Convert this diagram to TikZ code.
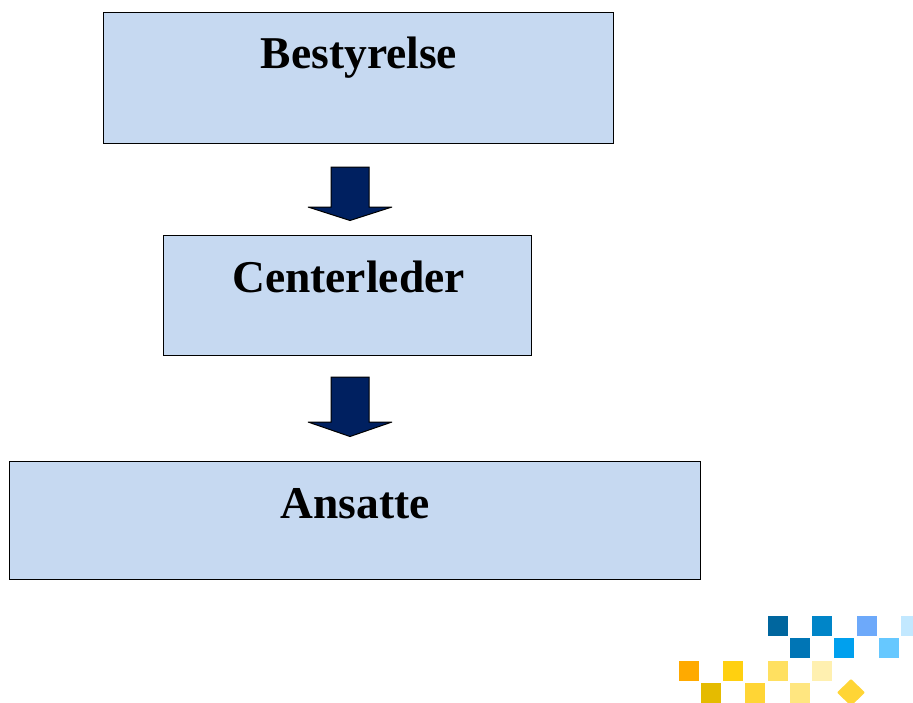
\documentclass[tikz,border=0pt]{standalone}
\usepackage{fontspec}
\setmainfont{Liberation Serif}
\definecolor{boxfill}{HTML}{C6D9F1}
\definecolor{arrowfill}{HTML}{002060}
\tikzset{
  x=1pt,y=-1pt,
  orgbox/.style={draw=black,line width=1.3pt,fill=boxfill,anchor=north west,inner sep=0pt,outer sep=0pt},
  boxtext/.style={anchor=base,inner sep=0pt,font=\fontsize{45.5}{45.5}\selectfont\bfseries},
  blockarrow/.style={draw=black,line width=1pt,fill=arrowfill,line join=miter,miter limit=2},
  tile/.style={minimum size=20pt,inner sep=0pt,outer sep=0pt,anchor=north west}
}
\begin{document}
\begin{tikzpicture}
\path[use as bounding box,fill=white] (0,0) rectangle (913,702);
\clip (0,0) rectangle (913,702);
\node[orgbox,minimum width=510pt,minimum height=131pt] (bestyrelse) at (103.3,12.2) {};
\node[orgbox,minimum width=368.5pt,minimum height=120pt] (centerleder) at (163.3,235.3) {};
\node[orgbox,minimum width=691pt,minimum height=118pt] (ansatte) at (9.3,461.3) {};
\node[boxtext] (t1) at (359,68) {Bestyrelse};
\node[boxtext] (t2) at (348.5,292) {Centerleder};
\node[boxtext] (t3) at (355,518) {Ansatte};
\draw[blockarrow] (331,167) -- (369,167) -- (369,207) -- (392,207) -- (350,220.5) -- (308,207) -- (331,207) -- cycle;
\draw[blockarrow] (331,377) -- (369,377) -- (369,422) -- (392,422) -- (350,436.5) -- (308,422) -- (331,422) -- cycle;
\foreach \x/\y/\c in {768/616/00669E,812/616/0085C8,857/616/6DA9FA,901/616/C2E8FF,
  790/638/0075B5,834/638/00A0EE,879/638/66C8FF,
  679/660.5/FFAA00,723/660.5/FFD010,768/660.5/FFE060,812/660.5/FFF0B0,
  701/683/E5BB00,745/683/FFD535,790/683/FFE680}{
  \definecolor{tilec}{HTML}{\c}
  \node[tile,fill=tilec] at (\x,\y) {};
}
\definecolor{tilec}{HTML}{FFD535}
\fill[tilec,rounded corners=1pt] (851,679) -- (865,692.5) -- (851,706) -- (837,692.5) -- cycle;
\end{tikzpicture}
\end{document}
